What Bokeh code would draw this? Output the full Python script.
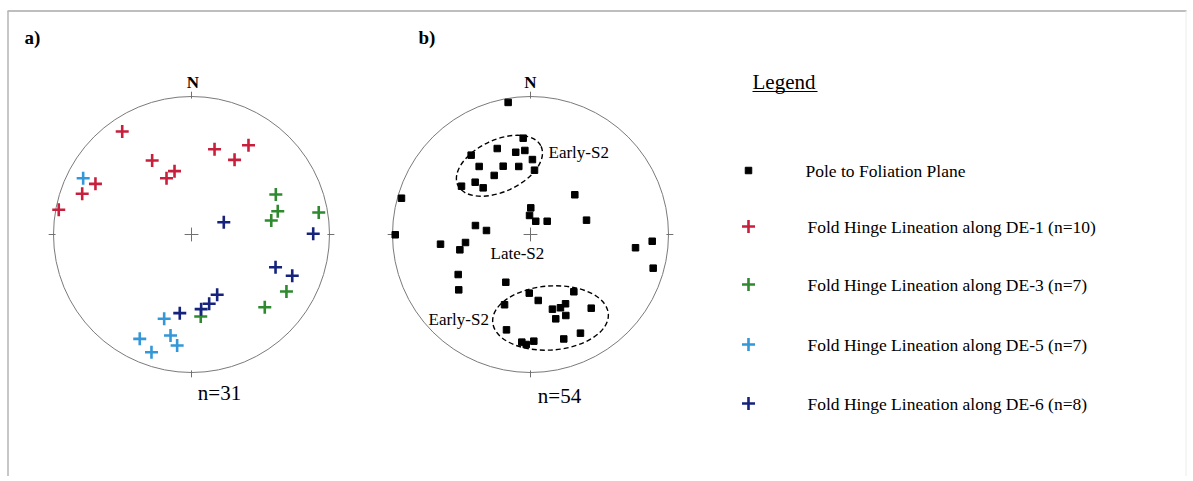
import math
from bokeh.plotting import figure
from bokeh.models import Range1d
from bokeh.core.properties import value
from bokeh.embed import file_html
from bokeh.resources import INLINE

# ---------------- data (unit stereonet coords: east = +x, north = +y) ----------------
de1_x = [-0.502, -0.285, -0.181, -0.123, -0.696, -0.792, -0.962, 0.167, 0.312, 0.413]
de1_y = [0.746, 0.536, 0.408, 0.459, 0.367, 0.295, 0.179, 0.618, 0.541, 0.647]

de3_x = [0.611, 0.625, 0.578, 0.922, 0.688, 0.531, 0.067]
de3_y = [0.290, 0.169, 0.101, 0.159, -0.413, -0.527, -0.594]

de5_x = [-0.785, -0.198, -0.152, -0.104, -0.375, -0.290]
de5_y = [0.408, -0.611, -0.732, -0.804, -0.756, -0.853]

de6_x = [0.234, 0.882, 0.609, 0.730, 0.186, 0.128, 0.070, -0.085]
de6_y = [0.089, 0.005, -0.237, -0.299, -0.437, -0.502, -0.541, -0.570]

pole_x = [-0.162, -0.053, -0.241, -0.107, -0.041, -0.430, 0.014, -0.372, -0.198, -0.085,
          0.029, -0.263, -0.401, -0.500, -0.343, -0.935, 0.321, 0.002, -0.007, 0.038,
          0.121, 0.406, -0.399, -0.319, -0.980, -0.652, -0.471, -0.512, 0.761, 0.882,
          0.889, -0.524, -0.520, -0.179, -0.009, 0.056, -0.188, 0.314, 0.159, 0.217,
          0.254, 0.440, 0.183, 0.256, -0.174, 0.362, 0.241, -0.063, -0.031, 0.024]
pole_y = [0.957, 0.698, 0.623, 0.596, 0.609, 0.575, 0.543, 0.493, 0.495, 0.493,
          0.466, 0.428, 0.379, 0.350, 0.338, 0.263, 0.288, 0.193, 0.138, 0.096,
          0.096, 0.104, 0.065, 0.029, -0.002, -0.070, -0.058, -0.111, -0.096, -0.049,
          -0.244, -0.290, -0.401, -0.346, -0.425, -0.478, -0.509, -0.415, -0.541, -0.531,
          -0.502, -0.534, -0.611, -0.587, -0.691, -0.715, -0.757, -0.780, -0.797, -0.773]

# Early-S2 clusters (ellipses): centre x, centre y, semi-axes, rotation (deg)
clus_x = [-0.225, 0.145]
clus_y = [0.498, -0.605]
clus_a = [0.333, 0.420]
clus_b = [0.188, 0.232]
clus_ang = [25, 4]

legend_labels = ["Pole to Foliation Plane",
                 "Fold Hinge Lineation along DE-1 (n=10)",
                 "Fold Hinge Lineation along DE-3 (n=7)",
                 "Fold Hinge Lineation along DE-5 (n=7)",
                 "Fold Hinge Lineation along DE-6 (n=8)"]
count_a = "n=31"
count_b = "n=54"

C_DE1 = "#c8203c"
C_DE3 = "#2f8a2f"
C_DE5 = "#3497d8"
C_DE6 = "#15237c"
SERIF = value("Liberation Serif")

# ---------------- figure (ranges expressed in page pixels) ----------------
W, H = 1188, 476
p = figure(width=W, height=H, output_backend="svg", toolbar_location=None,
           x_range=Range1d(0, W), y_range=Range1d(H, 0),
           x_axis_location=None, y_axis_location=None, min_border=0)
p.grid.visible = False
p.outline_line_color = None
p.background_fill_color = "white"

# frame lines
p.segment(x0=[7, 7.5, 1185.5], y0=[10.5, 10.5, 10.5], x1=[1186, 7.5, 1185.5], y1=[10.5, H, H],
          line_color=["#a8a8a8", "#b4b4b4", "#ececec"], line_width=[1.5, 1.5, 1])

# stereonet ranges
nets = {"a": (191, 234, 138), "b": (530, 234, 138)}
for k, (cx, cy, r) in nets.items():
    p.extra_x_ranges["x" + k] = Range1d((0 - cx) / r, (W - cx) / r)
    p.extra_y_ranges["y" + k] = Range1d((cy - H) / r, (cy - 0) / r)
    kw = dict(x_range_name="x" + k, y_range_name="y" + k)
    p.ellipse(x=0, y=0, width=2, height=2, fill_color=None, line_color="#7a7a7a",
              line_width=1, **kw)
    ri, ro, c = 0.985, 1.035, 0.05
    p.segment(x0=[0, 0, ri, -ri, -c, 0], y0=[ri, -ri, 0, 0, 0, -c],
              x1=[0, 0, ro, -ro, c, 0], y1=[ro, -ro, 0, 0, 0, c],
              line_color="#707070", line_width=1, **kw)

ka = dict(x_range_name="xa", y_range_name="ya")
kb = dict(x_range_name="xb", y_range_name="yb")

for xs, ys, col in [(de1_x, de1_y, C_DE1), (de3_x, de3_y, C_DE3),
                    (de5_x, de5_y, C_DE5), (de6_x, de6_y, C_DE6)]:
    p.scatter(xs, ys, marker="cross", size=13, line_width=2.6, line_color=col, **ka)

p.scatter(pole_x, pole_y, marker="square", size=6.5, fill_color="black",
          line_color="black", **kb)
p.ellipse(x=clus_x, y=clus_y, width=[2 * a for a in clus_a], height=[2 * b for b in clus_b],
          angle=[math.radians(t) for t in clus_ang], fill_color=None, line_color="black",
          line_width=1.4, line_dash="5 3", **kb)

# ---------------- texts ----------------
p.text(x=[24, 418], y=[37, 37], text=["a)", "b)"], text_font=SERIF, text_font_size="19px",
       text_font_style="bold", text_baseline="middle", text_align="left")
p.text(x=[192.5, 530], y=[82, 82], text=["N", "N"], text_font=SERIF, text_font_size="17px",
       text_font_style="bold", text_baseline="middle", text_align="center")
p.text(x=[219, 559], y=[392, 395], text=[count_a, count_b], text_font=SERIF,
       text_font_size="21px", text_baseline="middle", text_align="center")
p.text(x=[548, 490, 428], y=[152, 253, 319], text=["Early-S2", "Late-S2", "Early-S2"],
       text_font=SERIF, text_font_size="17px", text_baseline="middle", text_align="left")

# legend
p.text(x=[752], y=[81], text=["Legend"], text_font=SERIF, text_font_size="21px",
       text_baseline="middle", text_align="left")
p.segment(x0=[752], y0=[91], x1=[817], y1=[91], line_color="black", line_width=1.2)
ly = [170, 226, 284, 344, 403]
p.scatter([748], [ly[0]], marker="square", size=6.5, fill_color="black", line_color="black")
p.scatter([748] * 4, ly[1:], marker="cross", size=13, line_width=2.6,
          line_color=[C_DE1, C_DE3, C_DE5, C_DE6])
p.text(x=[805] + [807] * 4, y=ly, text=legend_labels, text_font=SERIF, text_font_size="17.5px",
       text_baseline="middle", text_align="left")

open("out.html", "w").write(file_html(p, INLINE))
